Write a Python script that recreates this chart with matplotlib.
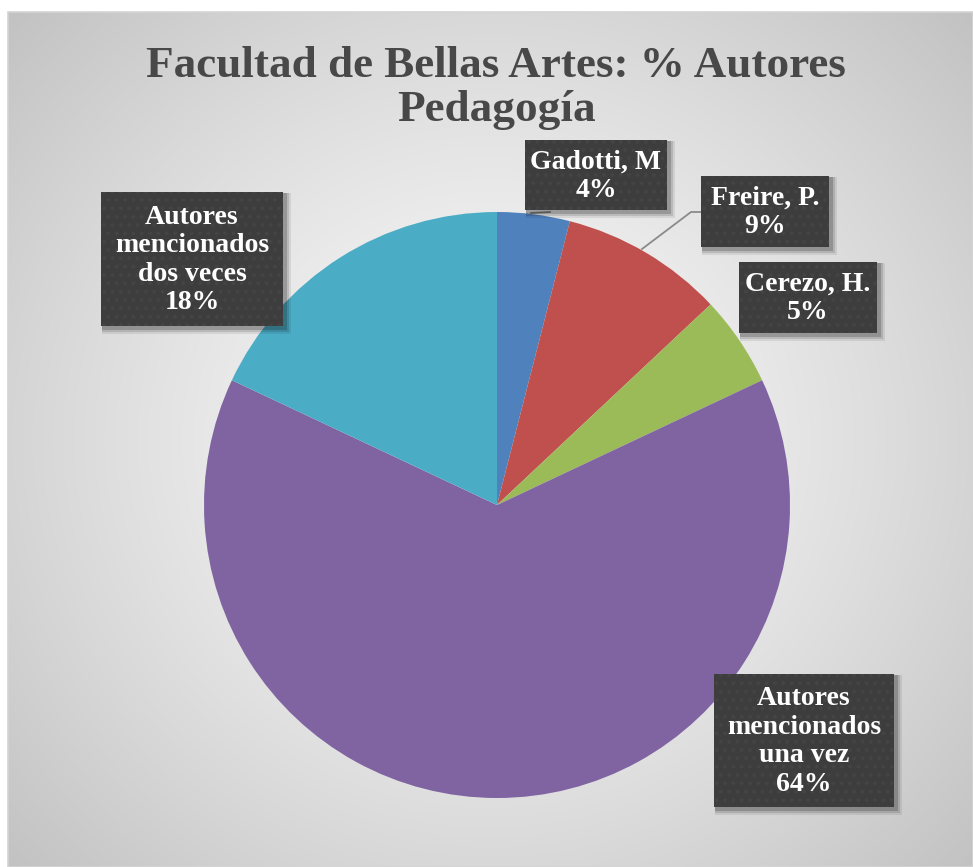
import numpy as np
import matplotlib
matplotlib.use("Agg")
import matplotlib.pyplot as plt
from matplotlib.patches import Rectangle
from matplotlib.lines import Line2D

# ── Data ───────────────────────────────────────────────────────────────────
title = "Facultad de Bellas Artes: % Autores\nPedagogía"
categories = ["Gadotti, M", "Freire, P.", "Cerezo, H.",
              "Autores\nmencionados\nuna vez", "Autores\nmencionados\ndos veces"]
values = [4, 9, 5, 64, 18]
colors = ['#4F81BD', '#C0504D', '#9BBB59', '#8064A2', '#4BACC6']

# ── Layout (pixels, origin top-left) ───────────────────────────────────────
W, H = 973, 867
cx, cy, rad = 497, 505, 293
# label boxes: x0, y0, x1, y1
boxes = [(525, 140, 667, 210),
         (701, 176, 829, 247),
         (739, 262, 877, 333),
         (714, 674, 894, 807),
         (101, 192, 283, 326)]

fig = plt.figure(figsize=(W / 100, H / 100), dpi=100)
fig.patch.set_facecolor('white')

# background with radial gradient
bg = fig.add_axes([0, 0, 1, 1])
bg.set_xlim(0, W)
bg.set_ylim(H, 0)
bg.axis('off')
yy, xx = np.mgrid[12:H, 8:W]
d = np.hypot(xx - 490, (yy - 440) * 1.05)
d = d / d.max()
shade = 0.98 - 0.22 * d ** 1.3
img = np.dstack([shade, shade, shade])
bg.imshow(img, extent=(8, W, H, 12), aspect='auto', interpolation='bilinear', zorder=0)
bg.add_patch(Rectangle((8, 12), W - 8, H - 12, fill=False, ec='#d4d4d4', lw=1.2, zorder=1))

# pie
ax = fig.add_axes([(cx - rad) / W, 1 - (cy + rad) / H, 2 * rad / W, 2 * rad / H])
ax.pie(values, colors=colors, startangle=90, counterclock=False, radius=1,
       wedgeprops=dict(linewidth=0))
ax.set_xlim(-1, 1)
ax.set_ylim(-1, 1)
ax.axis('off')

# overlay for labels / title
ov = fig.add_axes([0, 0, 1, 1])
ov.set_xlim(0, W)
ov.set_ylim(H, 0)
ov.axis('off')
ov.patch.set_alpha(0)

# leader lines
ov.add_line(Line2D([642, 691, 701], [249, 212, 212], color='#8a8a8a', lw=1.3, zorder=3))
ov.add_line(Line2D([531, 550], [213, 212], color='#8a8a8a', lw=1.3, zorder=3))

plt.rcParams['hatch.linewidth'] = 1.6
font = dict(family='Liberation Serif', weight='bold')
for (x0, y0, x1, y1), cat, v in zip(boxes, categories, values):
    # shadow
    for k, a in zip([7, 5, 3], [0.08, 0.12, 0.18]):
        ov.add_patch(Rectangle((x0 + 1, y0 + 1), x1 - x0 + k, y1 - y0 + k,
                               fc='black', ec='none', alpha=a, zorder=4))
    ov.add_patch(Rectangle((x0, y0), x1 - x0, y1 - y0, fc='#3d3d3d',
                           ec='#444444', lw=0, hatch='..', zorder=5))
    ov.text((x0 + x1) / 2, (y0 + y1) / 2 + 1, f"{cat}\n{v}%", ha='center', va='center',
            color='white', fontsize=20, linespacing=1.18, zorder=6, **font)

ov.text(496, 88, title, ha='center', va='center', color='#484848',
        fontsize=32.5, linespacing=1.16, zorder=6, **font)

fig.savefig("out.png", dpi=100, facecolor='white')
